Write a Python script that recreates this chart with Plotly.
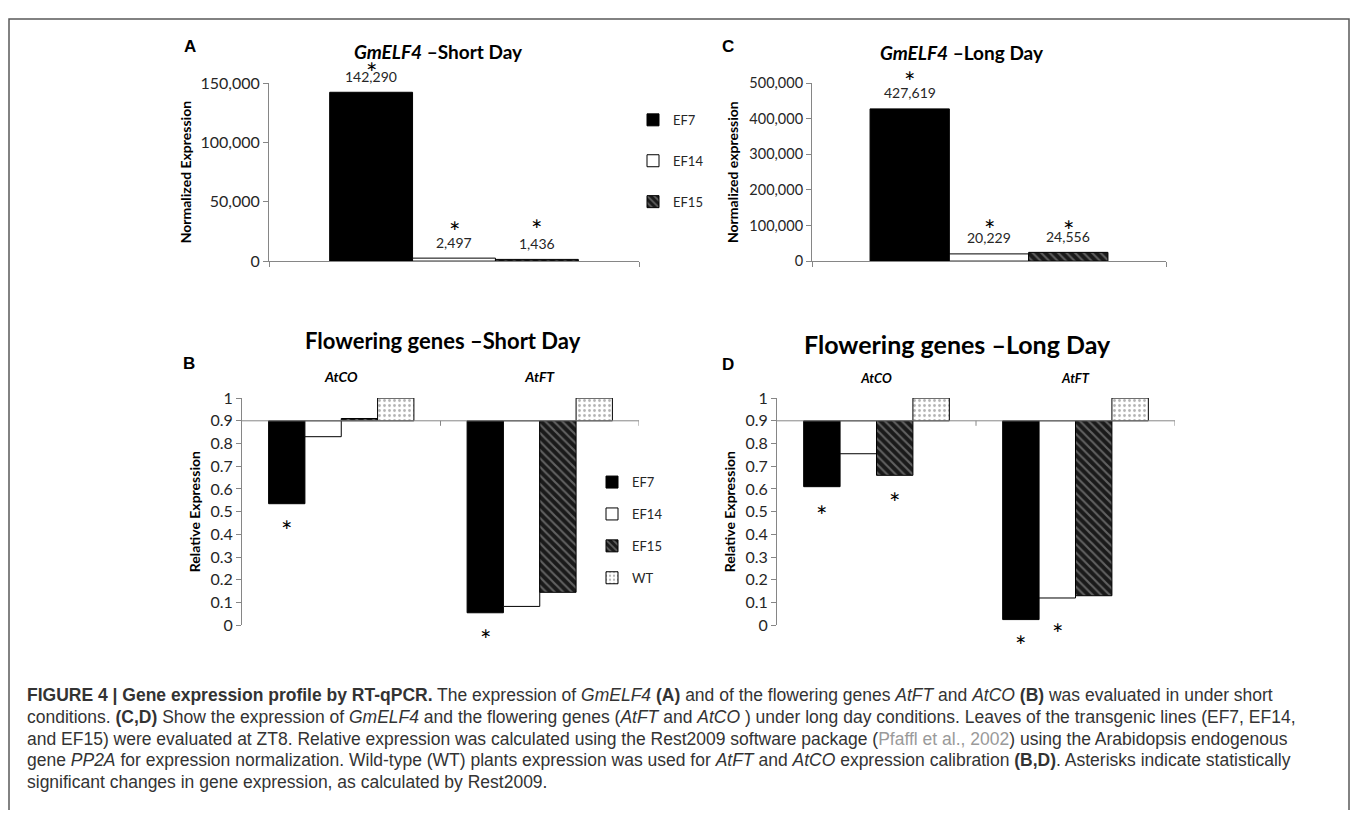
import plotly.graph_objects as go

# page geometry: the browser adds an 8px body margin, so the figure is sized to fit
OX, OY = 8, 8
FW, FH = 1342, 802

# ---------------- data ----------------
lines3 = ["EF7", "EF14", "EF15"]
lines4 = ["EF7", "EF14", "EF15", "WT"]

# GmELF4 normalized expression
sd_norm = [142290, 2497, 1436]      # short day (A)
ld_norm = [427619, 20229, 24556]    # long day (C)
sd_norm_sig = [True, True, True]
ld_norm_sig = [True, True, True]

# flowering genes, relative expression
genes = ["AtCO", "AtFT"]
sd_ef7 = [0.535, 0.055]
sd_ef14 = [0.83, 0.083]
sd_ef15 = [0.91, 0.145]
sd_wt = [1.0, 1.0]
ld_ef7 = [0.61, 0.025]
ld_ef14 = [0.755, 0.12]
ld_ef15 = [0.66, 0.13]
ld_wt = [1.0, 1.0]
sd_sig = {"EF7": [True, True], "EF14": [False, False], "EF15": [False, False], "WT": [False, False]}
ld_sig = {"EF7": [True, True], "EF14": [False, True], "EF15": [True, False], "WT": [False, False]}
axis_cross = 0.9   # horizontal axis crosses at 0.9 in B and D

a_ticks = [0, 50000, 100000, 150000]
c_ticks = [0, 100000, 200000, 300000, 400000, 500000]

# ---------------- styles ----------------
FONT = "Lato"
AXC = "#868686"
TXT = "#262626"
STY = {
    "EF7": dict(color="#000000"),
    "EF14": dict(color="#ffffff"),
    "EF15": dict(color="#1a1a1a",
                 pattern=dict(shape="\\", fgcolor="#a8a8a8", bgcolor="#1a1a1a",
                              size=6, solidity=0.35, fillmode="overlay")),
    "WT": dict(color="#ffffff",
               pattern=dict(shape=".", fgcolor="#6a6a6a", bgcolor="#ffffff",
                            size=5, solidity=0.25, fillmode="overlay")),
}


def px(x):
    return (x - OX) / FW


def py(y):
    return 1 - (y - OY) / FH


def marker(name):
    m = dict(color=STY[name]["color"], line=dict(color="#000000", width=1))
    if "pattern" in STY[name]:
        m["pattern"] = STY[name]["pattern"]
    return m


fig = go.Figure()
STAR = dict(family=FONT, size=27, color="#000000")

# ---- panels A and C (GmELF4) ----
w3 = 0.224
panels_norm = [
    ("x", "y", sd_norm, sd_norm_sig, "legend", True, [27, 34, 37]),
    ("x2", "y2", ld_norm, ld_norm_sig, None, False, [34, 31, 29]),
]
annotations = []
for xa, ya, vals, sig, leg, showleg, star_shift in panels_norm:
    for i, name in enumerate(lines3):
        off = -1.5 * w3 + i * w3
        tr = dict(x=[0], y=[vals[i]], width=w3, offset=off, name=name,
                  marker=marker(name), xaxis=xa, yaxis=ya,
                  showlegend=showleg, hoverinfo="name+y")
        if leg:
            tr["legend"] = leg
            tr["legendgroup"] = "A" + name
        fig.add_trace(go.Bar(**tr))
        cx = off + w3 / 2
        annotations.append(dict(x=cx, y=vals[i], xref=xa, yref=ya, text=f"{vals[i]:,}",
                                showarrow=False, yanchor="middle", yshift=16,
                                font=dict(family=FONT, size=14, color=TXT)))
        if sig[i]:
            annotations.append(dict(x=cx, y=vals[i], xref=xa, yref=ya, text="*",
                                    showarrow=False, yanchor="middle",
                                    yshift=star_shift[i] - 7, font=STAR))

# ---- panels B and D (flowering genes) ----
w4 = 0.183
panels_rel = [
    ("x3", "y3", [sd_ef7, sd_ef14, sd_ef15, sd_wt], sd_sig, "legend2", True,
     {"EF7": [20, 20], "EF14": [20, 20], "EF15": [20, 20], "WT": [0, 0]}),
    ("x4", "y4", [ld_ef7, ld_ef14, ld_ef15, ld_wt], ld_sig, None, False,
     {"EF7": [22, 19], "EF14": [20, 29], "EF15": [20, 20], "WT": [0, 0]}),
]
for xa, ya, series, sig, leg, showleg, shifts in panels_rel:
    for i, name in enumerate(lines4):
        vals = series[i]
        off = -2 * w4 + i * w4
        tr = dict(x=genes, y=[v - axis_cross for v in vals], base=axis_cross,
                  width=w4, offset=off, name=name, marker=marker(name),
                  xaxis=xa, yaxis=ya, showlegend=showleg,
                  customdata=vals, hovertemplate="%{customdata}<extra>" + name + "</extra>")
        if leg:
            tr["legend"] = leg
            tr["legendgroup"] = "B" + name
        fig.add_trace(go.Bar(**tr))
        for j, g in enumerate(genes):
            if sig[name][j]:
                annotations.append(dict(x=j + off + w4 / 2, y=vals[j], xref=xa, yref=ya,
                                        text="*", showarrow=False, yanchor="middle",
                                        yshift=-shifts[name][j] - 7, font=STAR))

# ---------------- axes ----------------
common = dict(showgrid=False, zeroline=False, linecolor=AXC, linewidth=1,
              ticks="outside", ticklen=5, tickcolor=AXC, fixedrange=True)

ylab_font = dict(family=FONT, size=14, color="#000")
fig.update_layout(
    xaxis=dict(**common, domain=[px(269), px(639)], range=[-0.5, 0.5], anchor="y",
               showline=True, tickvals=[-0.5, 0.5], ticktext=["", ""]),
    yaxis=dict(**common, domain=[py(257), py(74.7)], range=[0, 150000], anchor="x",
               showline=True, tickvals=a_ticks, tickformat=",",
               tickfont=dict(family=FONT, size=16, color=TXT),
               title=dict(text="<b>Normalized Expression</b>", font=ylab_font, standoff=5)),
    xaxis2=dict(**common, domain=[px(812), px(1166)], range=[-0.5, 0.5], anchor="y2",
                showline=True, tickvals=[-0.5, 0.5], ticktext=["", ""]),
    yaxis2=dict(**common, domain=[py(257), py(74.7)], range=[0, 500000], anchor="x2",
                showline=True, tickvals=c_ticks, tickformat=",",
                tickfont=dict(family=FONT, size=14.5, color=TXT),
                title=dict(text="<b>Normalized expression</b>", font=ylab_font, standoff=7)),
    xaxis3=dict(showgrid=False, zeroline=False, domain=[px(242), px(639)], range=[-0.5, 1.5],
                anchor="y3", side="top", showline=False, ticks="", type="category",
                tickfont=dict(family=FONT, size=14, color="#000"),
                tickvals=genes, ticktext=[f"<b><i>{g}</i></b>" for g in genes],
                ticklabelstandoff=12, fixedrange=True),
    yaxis3=dict(**common, domain=[py(630), py(397.3)], range=[0, 1], anchor="x3",
                showline=True, dtick=0.1, tick0=0,
                tickfont=dict(family=FONT, size=16, color=TXT),
                title=dict(text="<b>Relative Expression</b>", font=ylab_font, standoff=6)),
    xaxis4=dict(showgrid=False, zeroline=False, domain=[px(777), px(1175)], range=[-0.5, 1.5],
                anchor="y4", side="top", showline=False, ticks="", type="category",
                tickfont=dict(family=FONT, size=13, color="#000"),
                tickvals=genes, ticktext=[f"<b><i>{g}</i></b>" for g in genes],
                ticklabelstandoff=11, fixedrange=True),
    yaxis4=dict(**common, domain=[py(630), py(397.3)], range=[0, 1], anchor="x4",
                showline=True, dtick=0.1, tick0=0,
                tickfont=dict(family=FONT, size=16, color=TXT),
                title=dict(text="<b>Relative Expression</b>", font=ylab_font, standoff=6)),
)

# ---------------- shapes: crossing axis at 0.9, frame ----------------
shapes = []
for xa, ya in [("x3", "y3"), ("x4", "y4")]:
    shapes.append(dict(type="line", xref=f"{xa} domain", yref=ya, x0=0, x1=1,
                       y0=axis_cross, y1=axis_cross, line=dict(color=AXC, width=1)))
    for b in [0.5, 1.5]:
        shapes.append(dict(type="line", xref=xa, yref=ya, x0=b, x1=b,
                           ysizemode="pixel", yanchor=axis_cross, y0=0, y1=-5,
                           line=dict(color=AXC, width=1)))
shapes.append(dict(type="rect", xref="paper", yref="paper", x0=px(9), x1=1 - 1 / FW,
                   y0=-0.05, y1=py(9), line=dict(color="#5a5a5a", width=1.5),
                   fillcolor="rgba(0,0,0,0)", layer="above"))

# ---------------- titles & panel letters ----------------
def note(x, y, text, size, family=FONT, color="#000", anchor="center"):
    annotations.append(dict(x=px(x), y=py(y), xref="paper", yref="paper", text=text,
                            showarrow=False, xanchor=anchor, yanchor="middle",
                            font=dict(family=family, size=size, color=color)))


note(438, 42, "<b><i>GmELF4</i> –Short Day</b>", 19)
note(962, 43, "<b><i>GmELF4</i> –Long Day</b>", 19)
note(443, 338, "<b>Flowering genes –Short Day</b>", 22)
note(957, 342, "<b>Flowering genes –Long Day</b>", 25)
for letter, x, y in [("A", 190, 37), ("C", 728, 37), ("B", 189, 362), ("D", 728, 363)]:
    note(x, y, f"<b>{letter}</b>", 17, family="Liberation Sans")

# ---------------- caption ----------------
cap_lines = [
    "<b>FIGURE 4 | Gene expression profile by RT-qPCR.</b> The expression of <i>GmELF4</i> <b>(A)</b> and of the flowering genes <i>AtFT</i> and <i>AtCO</i> <b>(B)</b> was evaluated in under short",
    "conditions. <b>(C,D)</b> Show the expression of <i>GmELF4</i> and the flowering genes (<i>AtFT</i> and <i>AtCO</i> ) under long day conditions. Leaves of the transgenic lines (EF7, EF14,",
    "and EF15) were evaluated at ZT8. Relative expression was calculated using the Rest2009 software package (<span style='color:#9a9a9a'>Pfaffl et al., 2002</span>) using the Arabidopsis endogenous",
    "gene <i>PP2A</i> for expression normalization. Wild-type (WT) plants expression was used for <i>AtFT</i> and <i>AtCO</i> expression calibration <b>(B,D)</b>. Asterisks indicate statistically",
    "significant changes in gene expression, as calculated by Rest2009.",
]
for k, t in enumerate(cap_lines):
    note(25, 701 + 22.5 * k, t, 17.5, family="Liberation Sans", color="#333333", anchor="left")

fig.update_layout(
    width=FW, height=FH, margin=dict(l=0, r=0, t=0, b=0),
    paper_bgcolor="white", plot_bgcolor="rgba(0,0,0,0)",
    barmode="overlay", showlegend=True,
    annotations=annotations, shapes=shapes,
    font=dict(family=FONT, color=TXT),
    legend=dict(x=px(633), y=py(97), xanchor="left", yanchor="top",
                traceorder="grouped", tracegroupgap=21, itemwidth=30,
                font=dict(family=FONT, size=13, color=TXT), bgcolor="rgba(0,0,0,0)"),
    legend2=dict(x=px(592), y=py(468), xanchor="left", yanchor="top",
                 traceorder="grouped", tracegroupgap=12, itemwidth=30,
                 font=dict(family=FONT, size=13, color=TXT), bgcolor="rgba(0,0,0,0)"),
)

fig.write_html("out.html")
